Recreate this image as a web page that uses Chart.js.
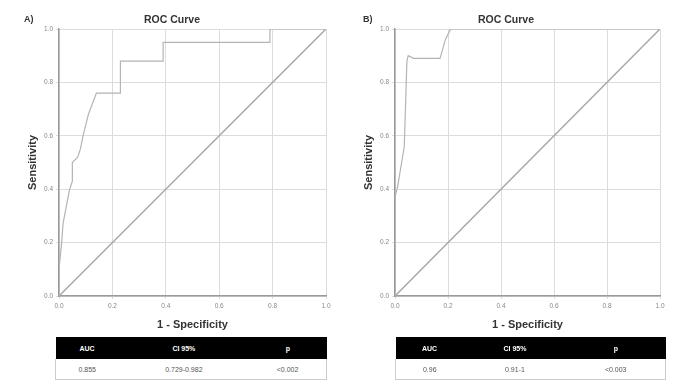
<!DOCTYPE html>
<html>
<head>
<meta charset="utf-8">
<script src="https://cdn.jsdelivr.net/npm/chart.js@4/dist/chart.umd.min.js"></script>
<style>
  body { margin: 0; background: #fff; font-family: "Liberation Sans", Arial, sans-serif; }
  #wrap { position: relative; width: 674px; height: 386px; overflow: hidden; }
  .box { position: absolute; top: 0; height: 335px; }
  table.res { position: absolute; border-collapse: collapse; font-size: 7px; text-align: center; }
  table.res th { background: #000; color: #fff; height: 22px; font-weight: bold; padding: 0; }
  table.res td { height: 20px; color: #555; border: 1px solid #ccc; border-top: none; padding: 0; }
  table.res td + td { border-left: none; }
  table.res td:not(:last-child) { border-right: none; }
</style>
</head>
<body>
<div id="wrap">
  <div class="box" style="left:0;width:337px"><canvas id="chartA"></canvas></div>
  <div class="box" style="left:336px;width:338px"><canvas id="chartB"></canvas></div>
  <table class="res" id="tableA" style="left:55px;top:337px;width:272px"></table>
  <table class="res" id="tableB" style="left:395px;top:337px;width:271px"></table>
</div>
<script>
// ROC curve A (1 - specificity, sensitivity)
const rocA_fpr = [0, 0, 0.01, 0.015, 0.03, 0.04, 0.05, 0.05, 0.07, 0.08, 0.09, 0.11, 0.14, 0.23, 0.23, 0.39, 0.39, 0.79, 0.79, 1];
const rocA_tpr = [0, 0.1, 0.2, 0.27, 0.35, 0.40, 0.43, 0.50, 0.52, 0.55, 0.60, 0.68, 0.76, 0.76, 0.88, 0.88, 0.95, 0.95, 1, 1];

// ROC curve B
const rocB_fpr = [0, 0, 0.01, 0.02, 0.035, 0.045, 0.05, 0.07, 0.17, 0.19, 0.21, 1];
const rocB_tpr = [0, 0.37, 0.41, 0.47, 0.56, 0.88, 0.90, 0.89, 0.89, 0.96, 1, 1];

// reference line
const diag_x = [0, 1];
const diag_y = [0, 1];

const tickValues = [0, 0.2, 0.4, 0.6, 0.8, 1.0];

const tableHeaders = ["AUC", "CI 95%", "p"];
const tableA_values = ["0.855", "0.729-0.982", "<0.002"];
const tableB_values = ["0.96", "0.91-1", "<0.003"];

function toPoints(xs, ys) {
  return xs.map((x, i) => ({ x: x, y: ys[i] }));
}

// panel letter + "ROC Curve" above the plot
const headPlugin = {
  id: 'head',
  afterDraw(chart, args, opts) {
    const ctx = chart.ctx;
    ctx.save();
    ctx.fillStyle = '#333';
    ctx.textBaseline = 'middle';
    ctx.textAlign = 'left';
    ctx.font = 'bold 9px "Liberation Sans", Arial, sans-serif';
    ctx.fillText(opts.letter, opts.letterX, 20);
    ctx.textAlign = 'center';
    ctx.font = 'bold 10.5px "Liberation Sans", Arial, sans-serif';
    ctx.fillText('ROC Curve', opts.titleX, 20);
    ctx.restore();
  }
};

function makeAxis(isX) {
  return {
    type: 'linear',
    min: 0,
    max: 1,
    afterFit(scale) {
      if (isX) scale.height = 39; else scale.width = 59;
    },
    afterBuildTicks(scale) {
      scale.ticks = tickValues.map(v => ({ value: v }));
    },
    ticks: {
      color: '#888',
      font: { size: 6.5 },
      padding: 3,
      callback: v => v.toFixed(1)
    },
    grid: { color: '#dcdcdc', lineWidth: 1, tickLength: 3 },
    border: { color: '#9a9a9a', width: 1.5 },
    title: {
      display: true,
      text: isX ? '1 - Specificity' : 'Sensitivity',
      color: '#333',
      font: { size: 11, weight: 'bold' },
      padding: isX ? { top: 0, bottom: 3.5 } : { top: 26, bottom: 0 }
    }
  };
}

function printRoc(id, fpr, tpr, head, rightPad) {
  const ctx = document.getElementById(id).getContext('2d');
  return new Chart(ctx, {
    type: 'scatter',
    data: {
      datasets: [
        {
          label: 'ROC',
          data: toPoints(fpr, tpr),
          showLine: true,
          borderColor: '#b4b4b4',
          borderWidth: 1.2,
          pointRadius: 0,
          tension: 0
        },
        {
          label: 'Reference',
          data: toPoints(diag_x, diag_y),
          showLine: true,
          borderColor: '#a8a8a8',
          borderWidth: 1.5,
          pointRadius: 0
        }
      ]
    },
    options: {
      responsive: true,
      maintainAspectRatio: false,
      animation: false,
      layout: { padding: { top: 29, right: rightPad, left: 0, bottom: 0 } },
      plugins: {
        legend: { display: false },
        tooltip: { enabled: false },
        head: head
      },
      scales: {
        x: makeAxis(true),
        y: makeAxis(false)
      }
    },
    plugins: [headPlugin]
  });
}

function printTable(id, values) {
  const t = document.getElementById(id);
  t.innerHTML = '<tr>' + tableHeaders.map(h => '<th>' + h + '</th>').join('') + '</tr>' +
    '<tr>' + values.map(v => '<td>' + v + '</td>').join('') + '</tr>';
}

printRoc('chartA', rocA_fpr, rocA_tpr, { letter: 'A)', letterX: 24, titleX: 172 }, 11);
printRoc('chartB', rocB_fpr, rocB_tpr, { letter: 'B)', letterX: 27, titleX: 170 }, 14);
printTable('tableA', tableA_values);
printTable('tableB', tableB_values);
</script>
</body>
</html>
